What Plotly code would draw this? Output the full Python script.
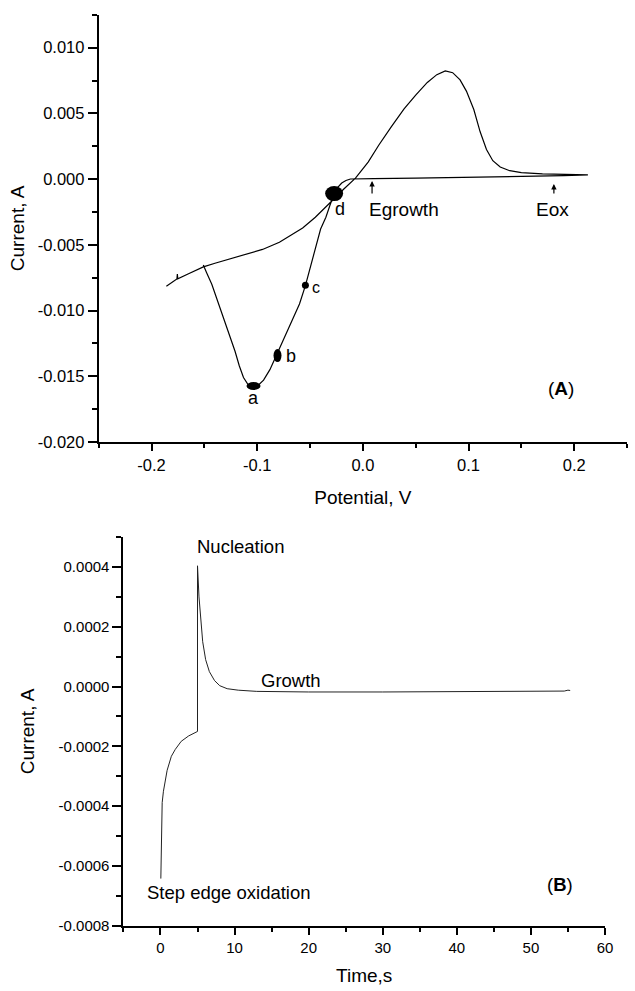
import plotly.graph_objects as go

# ---------------- Panel A: cyclic voltammogram ----------------
cv_potential = [
    -0.186, -0.180, -0.1760, -0.1756, -0.1752, -0.165, -0.151, -0.140, -0.125, -0.110,
    -0.095, -0.079, -0.065, -0.057, -0.045, -0.035, -0.026, -0.018, -0.007, 0.005,
    0.015, 0.027, 0.039, 0.050, 0.061, 0.070, 0.078, 0.085, 0.092, 0.098,
    0.105, 0.111, 0.117, 0.123, 0.130, 0.139, 0.150, 0.170, 0.190, 0.213,
    # return sweep
    0.190, 0.150, 0.100, 0.050, 0.010, -0.005, -0.0118, -0.016, -0.020, -0.024,
    -0.027, -0.031, -0.035, -0.040, -0.0445, -0.0498, -0.0544, -0.060, -0.0693, -0.0755,
    -0.0817, -0.088, -0.094, -0.100, -0.1045, -0.109, -0.113, -0.117, -0.121, -0.125,
    -0.1315, -0.1377, -0.143, -0.148, -0.151,
]
cv_current = [
    -0.00816, -0.00785, -0.00760, -0.00722, -0.00758, -0.00720, -0.00668, -0.00640, -0.00605, -0.00570,
    -0.00535, -0.00480, -0.00415, -0.00372, -0.00290, -0.00215, -0.00140, -0.00075, 0.00008, 0.00130,
    0.00258, 0.00400, 0.00535, 0.00640, 0.00736, 0.00795, 0.00823, 0.00810, 0.00755, 0.00670,
    0.00530, 0.00360, 0.00225, 0.00140, 0.00092, 0.00064, 0.00050, 0.00040, 0.00034, 0.00032,
    0.00026, 0.00019, 0.00012, 0.00007, 0.00004, 0.00003, 0.00001, -0.00010, -0.00030, -0.00065,
    -0.00110, -0.00195, -0.00290, -0.00380, -0.00520, -0.00670, -0.00810, -0.00950, -0.01120, -0.01230,
    -0.01340, -0.01450, -0.01530, -0.01575, -0.01585, -0.01560, -0.01510, -0.01420, -0.01310, -0.01220,
    -0.01070, -0.00920, -0.00800, -0.00710, -0.00653,
]

point_labels = ["a", "b", "c", "d"]
point_potential = [-0.1035, -0.0808, -0.0544, -0.0272]
point_current = [-0.01574, -0.01343, -0.00808, -0.00110]
point_w = [14, 8, 7, 18]
point_h = [8, 13, 7, 15]
label_potential = [-0.1037, -0.0678, -0.0440, -0.0212]
label_current = [-0.01669, -0.01343, -0.00821, -0.00224]
label_size = [18, 18, 16, 18]

a_xticks = [-0.2, -0.1, 0.0, 0.1, 0.2]
a_xticklabels = ["-0.2", "-0.1", "0.0", "0.1", "0.2"]
a_yticks = [0.010, 0.005, 0.000, -0.005, -0.010, -0.015, -0.020]
a_yticklabels = ["0.010", "0.005", "0.000", "-0.005", "-0.010", "-0.015", "-0.020"]

# ---------------- Panel B: chronoamperogram ----------------
time_s = [
    0.05, 0.08, 0.13, 0.23, 0.40, 0.58, 0.90, 1.47, 2.0, 2.8, 3.8, 5.0,
    5.0, 5.2, 5.45, 5.7, 6.1, 6.6, 7.3, 8.0, 9.0, 10.5, 13.0, 20.0, 30.0, 40.0, 50.0, 54.5, 55.0, 55.3,
]
current_b = [
    -0.000642, -0.000550, -0.000454, -0.000388, -0.000350, -0.000321, -0.000280, -0.000233, -0.000210, -0.000183, -0.000165, -0.000150,
    0.000404, 0.000300, 0.000210, 0.000150, 0.000090, 0.000050, 0.000020, 0.000003, -0.000007, -0.000012, -0.000016, -0.000018, -0.000018, -0.000017, -0.000016, -0.000015, -0.000012, -0.000013,
]
b_xticks = [0, 10, 20, 30, 40, 50, 60]
b_xticklabels = ["0", "10", "20", "30", "40", "50", "60"]
b_yticks = [0.0004, 0.0002, 0.0000, -0.0002, -0.0004, -0.0006, -0.0008]
b_yticklabels = ["0.0004", "0.0002", "0.0000", "-0.0002", "-0.0004", "-0.0006", "-0.0008"]

FONT = "Liberation Sans, Arial, sans-serif"
W, H = 635, 991

fig = go.Figure()
fig.add_trace(go.Scatter(x=cv_potential, y=cv_current, mode="lines",
                         line=dict(color="black", width=1.2), xaxis="x", yaxis="y",
                         showlegend=False, hoverinfo="skip"))
fig.add_trace(go.Scatter(x=time_s, y=current_b, mode="lines",
                         line=dict(color="#222", width=1.0), xaxis="x2", yaxis="y2",
                         showlegend=False, hoverinfo="skip"))

shapes = []
for px_, py_, w, h in zip(point_potential, point_current, point_w, point_h):
    shapes.append(dict(type="circle", xref="x", yref="y", xsizemode="pixel", ysizemode="pixel",
                       xanchor=px_, yanchor=py_, x0=-w / 2, x1=w / 2, y0=-h / 2, y1=h / 2,
                       fillcolor="black", line=dict(width=0)))

annotations = []
for t, lx, ly, s in zip(point_labels, label_potential, label_current, label_size):
    annotations.append(dict(text=t, x=lx, y=ly, xref="x", yref="y", showarrow=False,
                            font=dict(family=FONT, size=s, color="black")))

# E markers with arrows (panel A)
e_labels = ["Egrowth", "Eox"]
e_label_x = [0.0391, 0.1792]
e_label_y = [-0.00231, -0.00231]
e_arrow_x = [0.0087, 0.1808]
e_arrow_y = [-0.00015, -0.00038]
e_arrow_len = [14, 11]
for t, lx, ly, ax_, ay_, ln in zip(e_labels, e_label_x, e_label_y, e_arrow_x, e_arrow_y, e_arrow_len):
    annotations.append(dict(text=t, x=lx, y=ly, xref="x", yref="y", showarrow=False,
                            font=dict(family=FONT, size=19, color="black")))
    annotations.append(dict(text="", x=ax_, y=ay_, xref="x", yref="y", showarrow=True,
                            ax=0, ay=ln, arrowhead=2, arrowsize=0.9, arrowwidth=1.2,
                            arrowcolor="black"))

annotations.append(dict(text="(<b>A</b>)", x=0.1876, y=-0.01594, xref="x", yref="y",
                        showarrow=False, font=dict(family=FONT, size=19, color="black")))

b_texts = ["Nucleation", "Growth", "Step edge oxidation", "(<b>B</b>)"]
b_text_x = [10.8, 17.6, 9.25, 53.9]
b_text_y = [0.000467, 0.000022, -0.000689, -0.000661]
for t, tx, ty in zip(b_texts, b_text_x, b_text_y):
    annotations.append(dict(text=t, x=tx, y=ty, xref="x2", yref="y2", showarrow=False,
                            font=dict(family=FONT, size=18.5, color="black")))

axis_common = dict(showline=True, linecolor="black", linewidth=2, ticks="outside",
                   tickcolor="black", tickwidth=2, showgrid=False, zeroline=False,
                   mirror=False, fixedrange=True)

fig.update_layout(
    width=W, height=H, margin=dict(l=0, r=0, t=0, b=0),
    paper_bgcolor="white", plot_bgcolor="white",
    font=dict(family=FONT, color="black"),
    shapes=shapes, annotations=annotations,
    xaxis=dict(**axis_common, domain=[100 / W, 1.0], range=[-0.25, 0.25], anchor="y",
               tickvals=a_xticks, ticktext=a_xticklabels, ticklen=7,
               minor=dict(ticks="outside", ticklen=4, tickwidth=1.5, tickcolor="black", dtick=0.05, tick0=0),
               tickfont=dict(size=16.5),
               title=dict(text="Potential, V", font=dict(size=19), standoff=18)),
    yaxis=dict(**axis_common, domain=[(H - 446) / H, (H - 15) / H], range=[-0.020, 0.0125], anchor="x",
               tickvals=a_yticks, ticktext=a_yticklabels, ticklen=9,
               minor=dict(ticks="outside", ticklen=5, tickwidth=1.5, tickcolor="black", dtick=0.0025, tick0=0),
               tickfont=dict(size=16.5),
               title=dict(text="Current, A", font=dict(size=19), standoff=8)),
    xaxis2=dict(**axis_common, domain=[125 / W, 612.7 / W], range=[-5, 60], anchor="y2",
                tickvals=b_xticks, ticktext=b_xticklabels, ticklen=7,
                minor=dict(ticks="outside", ticklen=4, tickwidth=1.5, tickcolor="black", dtick=5, tick0=0),
                tickfont=dict(size=15),
                title=dict(text="Time,s", font=dict(size=19), standoff=14)),
    yaxis2=dict(**axis_common, domain=[(H - 934.3) / H, (H - 542) / H], range=[-0.0008, 0.0005], anchor="x2",
                tickvals=b_yticks, ticktext=b_yticklabels, ticklen=9,
                minor=dict(ticks="outside", ticklen=5, tickwidth=1.5, tickcolor="black", dtick=0.0001, tick0=0),
                tickfont=dict(size=15),
                title=dict(text="Current, A", font=dict(size=19), standoff=19)),
)

fig.write_html("out.html")
